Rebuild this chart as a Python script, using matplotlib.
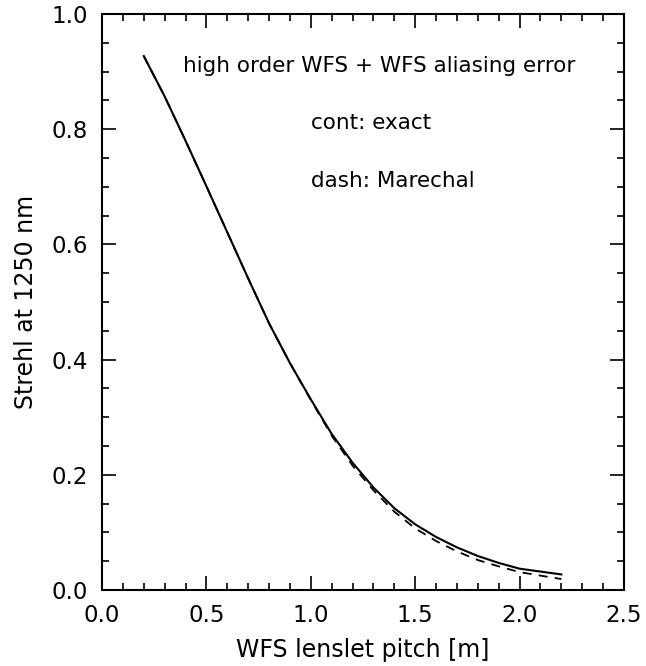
import numpy as np
import matplotlib
matplotlib.use("Agg")
import matplotlib.pyplot as plt
from matplotlib.ticker import MultipleLocator

# WFS lenslet pitch [m]
pitch = [0.2, 0.3, 0.4, 0.5, 0.6, 0.7, 0.8, 0.9, 1.0, 1.1, 1.2,
         1.3, 1.4, 1.5, 1.6, 1.7, 1.8, 1.9, 2.0, 2.1, 2.2]
# Strehl, exact computation (solid)
strehl_exact = [0.927, 0.857, 0.780, 0.701, 0.621, 0.541, 0.463, 0.394,
                0.331, 0.271, 0.221, 0.178, 0.142, 0.114, 0.092, 0.074,
                0.059, 0.047, 0.037, 0.032, 0.027]
# Strehl, Marechal approximation (dashed)
strehl_marechal = [0.927, 0.857, 0.780, 0.701, 0.621, 0.541, 0.463, 0.394,
                   0.330, 0.268, 0.216, 0.173, 0.136, 0.107, 0.085, 0.067,
                   0.052, 0.041, 0.031, 0.025, 0.019]

plt.rcParams['font.family'] = 'DejaVu Sans'

fig = plt.figure(figsize=(6.46, 6.66), dpi=100)
ax = fig.add_axes([102/646, 76/666, 522/646, 576/666])

ax.plot(pitch, strehl_exact, color='black', lw=1.5)
ax.plot(pitch, strehl_marechal, color='black', lw=1.3, ls=(0, (5, 4)))

ax.set_xlim(0, 2.5)
ax.set_ylim(0, 1.0)
ax.xaxis.set_major_locator(MultipleLocator(0.5))
ax.xaxis.set_minor_locator(MultipleLocator(0.1))
ax.yaxis.set_major_locator(MultipleLocator(0.2))
ax.yaxis.set_minor_locator(MultipleLocator(0.05))
ax.xaxis.set_major_formatter(plt.FormatStrFormatter('%.1f'))
ax.yaxis.set_major_formatter(plt.FormatStrFormatter('%.1f'))
ax.tick_params(which='both', direction='in', top=True, right=True,
               width=1.2, labelsize=16.5, pad=10)
ax.tick_params(which='major', length=10)
ax.tick_params(which='minor', length=5)
for s in ax.spines.values():
    s.set_linewidth(1.5)

ax.set_xlabel('WFS lenslet pitch [m]', fontsize=17, labelpad=8)
ax.set_ylabel('Strehl at 1250 nm', fontsize=17, labelpad=10)

ax.text(0.39, 0.90, 'high order WFS + WFS aliasing error', fontsize=15.5)
ax.text(1.0, 0.80, 'cont: exact', fontsize=15.5)
ax.text(1.0, 0.70, 'dash: Marechal', fontsize=15.5)

fig.savefig('out.png', dpi=100)
